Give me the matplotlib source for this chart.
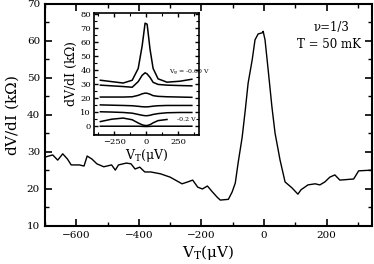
import numpy as np
import matplotlib
matplotlib.use("Agg")
import matplotlib.pyplot as plt
from matplotlib.ticker import MultipleLocator

plt.rcParams['font.family'] = ['DejaVu Serif']
plt.rcParams['mathtext.fontset'] = 'dejavuserif'

# main trace: bias voltage (uV) vs differential resistance (kOhm)
vt_main = [-700, -675, -659, -643, -628, -616, -590, -575, -565, -550, -534, -512,
           -487, -475, -465, -440, -425, -412, -397, -381, -362, -331, -300, -262,
           -244, -228, -212, -197, -181, -165, -150, -140, -114, -102, -92, -83,
           -70, -60, -51, -38, -29, -19, -6, -3, 3, 13, 25, 35, 51, 67, 89, 108,
           118, 130, 140, 163, 178, 194, 210, 226, 242, 286, 302, 345]
r_main = [28.6, 29.2, 27.8, 29.5, 28.1, 26.5, 26.5, 26.2, 28.9, 28.1, 26.8, 26.0,
          26.5, 25.1, 26.5, 27.0, 26.8, 25.4, 25.9, 24.6, 24.6, 24.1, 23.2, 21.4,
          21.9, 22.4, 20.5, 20.0, 20.8, 19.2, 17.8, 17.0, 17.2, 19.2, 21.6, 27.0,
          34.0, 41.4, 48.6, 54.9, 60.3, 61.9, 62.2, 62.6, 60.3, 52.2, 42.2, 35.1,
          27.8, 21.9, 20.3, 18.6, 19.8, 20.5, 21.1, 21.4, 21.1, 21.9, 23.2, 23.8,
          22.4, 22.7, 24.9, 25.1]

# inset: traces for several gate voltages
vt_inset = [-359, -270, -180, -109, -62, -31, -8, 8, 31, 55, 94, 164, 266, 359]
r_g060 = [33.0, 32.0, 31.0, 33.0, 41.4, 57.5, 73.7, 73.0, 55.0, 41.4, 34.0, 31.6, 32.3, 33.7]
r_g050 = [29.5, 29.0, 28.5, 28.0, 32.0, 36.5, 38.3, 37.5, 35.0, 31.5, 30.0, 29.5, 29.2, 29.0]
r_g040 = [21.0, 21.0, 21.0, 21.2, 22.2, 23.3, 23.8, 23.7, 23.0, 22.0, 21.5, 21.2, 21.0, 20.8]
r_g030 = [15.4, 15.2, 15.0, 14.8, 14.4, 14.1, 14.0, 14.0, 14.2, 14.5, 14.8, 15.0, 15.0, 15.0]
r_g025 = [10.5, 10.3, 10.0, 9.5, 8.6, 8.0, 7.7, 7.7, 8.0, 8.6, 9.2, 9.8, 10.0, 10.0]
r_g020 = [3.5, 5.2, 6.0, 4.8, 2.5, 1.2, 0.7, 0.7, 1.3, 2.6, 4.2, 5.0]
r_g010 = [0.2, 0.2, 0.2, 0.2, 0.2, 0.1, 0.0, 0.0, 0.1, 0.2, 0.2, 0.2, 0.2, 0.2]
inset_curves = [r_g060, r_g050, r_g040, r_g030, r_g025, r_g020, r_g010]

fig = plt.figure(figsize=(3.74, 2.64), dpi=100)
ax = fig.add_axes([0.120, 0.144, 0.875, 0.841])
ax.plot(vt_main, r_main, color='black', lw=1.0)
ax.set_xlim(-700, 345)
ax.set_ylim(10, 70)
ax.xaxis.set_major_locator(MultipleLocator(200))
ax.xaxis.set_minor_locator(MultipleLocator(100))
ax.yaxis.set_major_locator(MultipleLocator(10))
ax.yaxis.set_minor_locator(MultipleLocator(5))
ax.tick_params(which='both', direction='in', top=True, right=True, labelsize=7.5)
ax.tick_params(which='major', length=5, width=1.2)
ax.tick_params(which='minor', length=3, width=1.0)
for s in ax.spines.values():
    s.set_linewidth(1.5)
ax.set_xlabel(r'V$_\mathregular{T}$($\mathregular{\mu}$V)', fontsize=11, labelpad=2)
ax.set_ylabel(r'dV/dI (k$\mathregular{\Omega}$)', fontsize=11, labelpad=4)
ax.text(0.877, 0.88, 'ν=1/3', transform=ax.transAxes, ha='center', fontsize=8.5)
ax.text(0.868, 0.80, 'T = 50 mK', transform=ax.transAxes, ha='center', fontsize=8.5)

# inset
ins = fig.add_axes([0.251, 0.489, 0.281, 0.462])
for r in inset_curves:
    ins.plot(vt_inset[:len(r)], r, color='black', lw=1.1)
ins.set_xlim(-410, 415)
ins.set_ylim(-6, 81)
ins.xaxis.set_major_locator(MultipleLocator(250))
ins.xaxis.set_minor_locator(MultipleLocator(125))
ins.yaxis.set_major_locator(MultipleLocator(10))
ins.yaxis.set_minor_locator(MultipleLocator(5))
ins.tick_params(which='both', direction='in', top=True, right=True, labelsize=6, pad=2)
ins.tick_params(which='major', length=3, width=1.0)
ins.tick_params(which='minor', length=2, width=0.8)
for s in ins.spines.values():
    s.set_linewidth(1.2)
ins.set_xlabel(r'V$_\mathregular{T}$($\mathregular{\mu}$V)', fontsize=9, labelpad=1)
ins.set_ylabel(r'dV/dI (k$\mathregular{\Omega}$)', fontsize=9, labelpad=1)
ins.text(180, 38, r'V$_\mathregular{g}$ = -0.60 V', fontsize=4.5, va='center')
ins.text(245, 5, '-0.2 V', fontsize=4.5, va='center')

fig.savefig('out.png', dpi=100)
